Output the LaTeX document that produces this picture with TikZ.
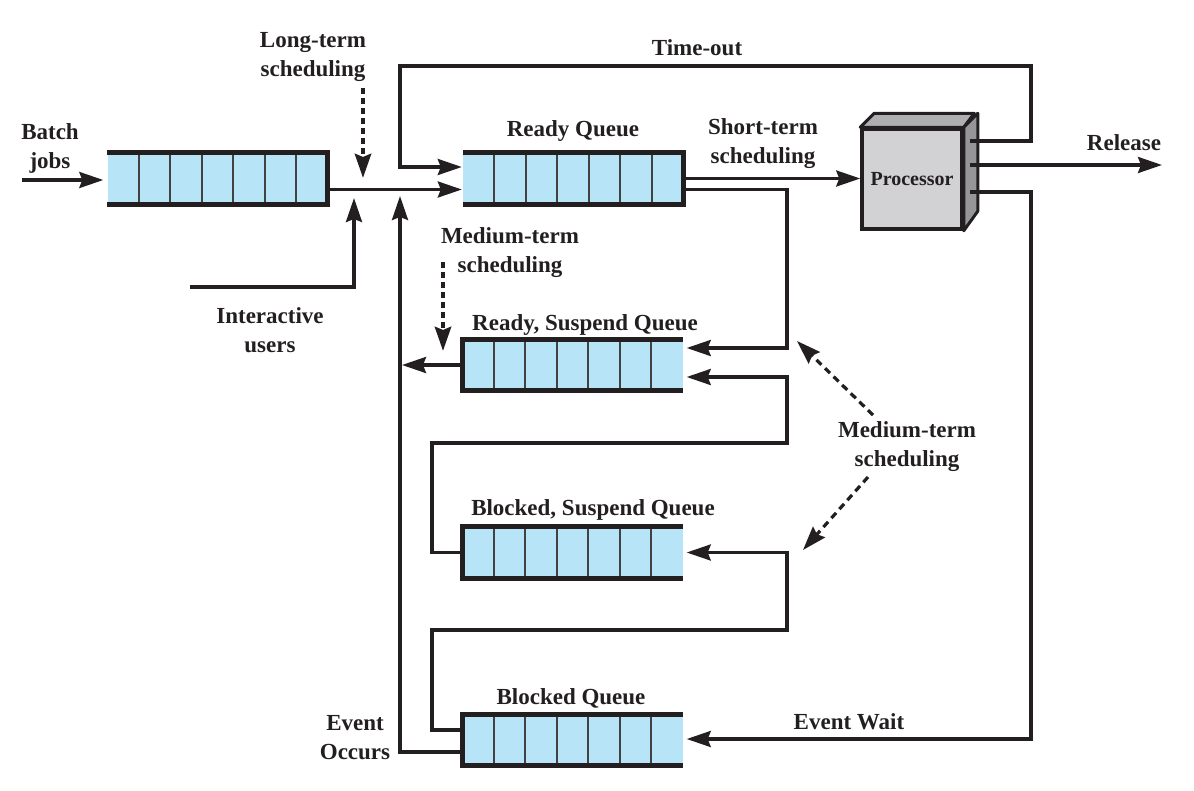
\documentclass[tikz,border=0pt]{standalone}
\usepackage{fontspec}
\setmainfont{Liberation Serif}
\usetikzlibrary{arrows.meta,calc}

\definecolor{ink}{RGB}{35,31,32}
\definecolor{qblue}{RGB}{184,228,248}
\definecolor{cpufront}{RGB}{210,210,212}
\definecolor{cputop}{RGB}{175,175,178}
\definecolor{cpuside}{RGB}{150,150,152}

% queue cells and thick border, #2 = closed end, #3 = open end
\newcommand{\qcells}[3]{%
  \foreach \i in {1,...,6}
    \draw[cell] ($(#1.south west)!\i/7!(#1.south east)$) -- ($(#1.north west)!\i/7!(#1.north east)$);
  \draw[qedge] (#1.north #3) -- (#1.north #2) -- (#1.south #2) -- (#1.south #3);
}

\begin{document}
\begin{tikzpicture}[x=1pt,y=-1pt,
    queue/.style={rectangle, fill=qblue, minimum width=220pt, minimum height=51pt, inner sep=0pt},
    cell/.style={ink!85, line width=1.6pt},
    qedge/.style={ink, line width=5pt},
    conn/.style={ink, line width=3.2pt},
    arr/.style={conn, -{Stealth[length=24pt,width=16pt,inset=3pt]}},
    sched/.style={arr, line width=4.5pt, dash pattern=on 6pt off 4pt},
    msched/.style={arr, dash pattern=on 7pt off 5pt},
    lbl/.style={text=ink, align=center, inner sep=0pt, font=\fontsize{23}{29}\selectfont\bfseries}]
  \useasboundingbox (0,0) rectangle (1194,790);

  % queues
  \node[queue] (batchq) at (217.5,178.5) {};
  \qcells{batchq}{east}{west}
  \node[queue] (readyq) at (573,178.5) {};
  \qcells{readyq}{east}{west}
  \node[queue] (rsq) at (572.5,365) {};
  \qcells{rsq}{west}{east}
  \node[queue] (bsq) at (572.5,552.5) {};
  \qcells{bsq}{west}{east}
  \node[queue] (blockq) at (572.5,740) {};
  \qcells{blockq}{west}{east}

  % processor
  \node[draw=ink, line width=3.5pt, fill=cpufront, minimum width=100pt, minimum height=100pt,
        inner sep=0pt, font=\fontsize{20}{24}\selectfont\bfseries, text=ink] (proc) at (912,179) {Processor};
  \draw[ink, line width=3pt, fill=cputop, line join=round] (proc.north west) -- ++(14,-14) -- ++(100,0) -- (proc.north east) -- cycle;
  \draw[ink, line width=3pt, fill=cpuside, line join=round] (proc.north east) -- ++(14,-14) -- ++(0,98) -- (proc.south east) -- cycle;

  \coordinate (out1) at ($(proc.east)+(6,-38)$);
  \coordinate (out2) at ($(proc.east)+(6,-14)$);
  \coordinate (out3) at ($(proc.east)+(6,13)$);

  % labels
  \node[lbl] (batchlbl) at (50,148) {Batch\\jobs};
  \node[lbl] (ltlbl) at (313,57) {Long-term\\scheduling};
  \node[lbl] (intlbl) at (270,330) {Interactive\\users};
  \node[lbl] (mtlbl) at (510,253) {Medium-term\\scheduling};
  \node[lbl] (stlbl) at (763,144) {Short-term\\scheduling};
  \node[lbl] (mtlbl2) at (907,447) {Medium-term\\scheduling};
  \node[lbl] (evlbl) at (355,738) {Event\\Occurs};
  \node[lbl] (tolbl) at (697,48) {Time-out};
  \node[lbl] (rellbl) at (1124,143) {Release};
  \node[lbl] (readylbl) at (573,131) {Ready Queue};
  \node[lbl] (rsqlbl) at (585,325) {Ready, Suspend Queue};
  \node[lbl] (bsqlbl) at (593,510) {Blocked, Suspend Queue};
  \node[lbl] (blklbl) at (571,698) {Blocked Queue};
  \node[lbl] (ewlbl) at (849,722) {Event Wait};

  \coordinate (batchin) at (22,180);
  \coordinate (intin) at (190,287);
  \coordinate (rel) at (1162,165);

  % connectors
  \draw[arr, shorten >=4pt] (batchin) -- (batchin -| batchq.west);
  \draw[arr] ($(batchq.east)+(0,11)$) -- ($(readyq.west)+(-1,11)$);
  \draw[arr] (intin) -- (354,287) -- (354,198);
  \draw[arr] ($(blockq.west)+(0,12)$) -- (400,752) -- (400,196);
  \draw[arr] (out1) -- (1031,141) -- (1031,66) -- (400,66) -- (400,167) -- ($(readyq.west)+(-1,-11.5)$);
  \draw[arr] (readyq.east) -- (readyq.east -| proc.west);
  \draw[arr] (out2) -- (rel);
  \draw[arr, shorten >=4pt] (out3) -- (1031,192) -- (1031,739) -- (blockq.east |- 0,739);
  \draw[arr, shorten >=4pt] ($(readyq.east)+(0,11)$) -- (787,189.5) -- (787,348) -- (rsq.east |- 0,348);
  \draw[arr, shorten >=4pt] (bsq.west) -- (432,552.5) -- (432,443) -- (787,443) -- (787,377) -- (rsq.east |- 0,377);
  \draw[arr, shorten >=4pt] ($(blockq.west)+(0,-10)$) -- (432,730) -- (432,630) -- (787,630) -- (787,552.5) -- (bsq.east);
  \draw[arr] (rsq.west) -- (402,365);

  % scheduling
  \draw[sched] (363,88) -- (363,178);
  \draw[sched] (443,262) -- (443,351);
  \draw[msched] (873,415) -- (797,341);
  \draw[msched] (868,477) -- (803,550);
\end{tikzpicture}
\end{document}
